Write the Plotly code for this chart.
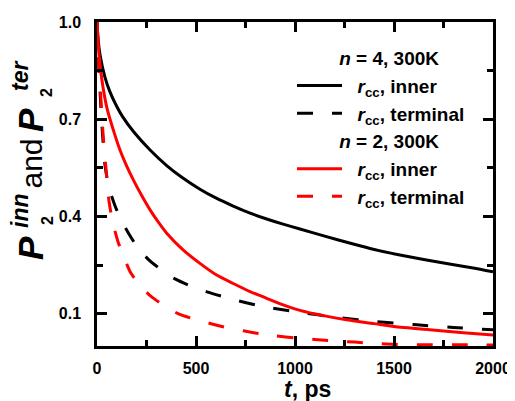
import plotly.graph_objects as go

# ---- data ----
t_n4_inner = [0, 5, 15, 40, 65, 91, 130, 184, 268, 352, 430, 520, 600, 688, 770, 857, 940, 1025,
              1150, 1280, 1400, 1530, 1650, 1780, 1900, 2000]
p_n4_inner = [1.0, 0.95, 0.9, 0.83, 0.785, 0.75, 0.707, 0.662, 0.605, 0.557, 0.52, 0.484, 0.457,
              0.432, 0.411, 0.392, 0.376, 0.361, 0.339, 0.317, 0.298, 0.281, 0.267, 0.253, 0.241, 0.229]

t_n4_term = [0, 10, 25, 40, 60, 96, 130, 162, 210, 263, 330, 394, 470, 555, 640, 717, 800, 888,
             1000, 1230, 1400, 1600, 1800, 2000]
p_n4_term = [1.0, 0.85, 0.68, 0.56, 0.49, 0.425, 0.38, 0.345, 0.30, 0.265, 0.233, 0.207, 0.186,
             0.167, 0.152, 0.139, 0.127, 0.117, 0.106, 0.087, 0.076, 0.066, 0.057, 0.05]

t_n2_inner = [0, 10, 25, 50, 91, 116, 150, 184, 225, 268, 310, 352, 436, 520, 604, 688, 773, 857,
              940, 1025, 1150, 1260, 1400, 1500, 1680, 1850, 2000]
p_n2_inner = [1.0, 0.9, 0.82, 0.735, 0.65, 0.605, 0.555, 0.512, 0.465, 0.42, 0.382, 0.348, 0.296,
              0.255, 0.219, 0.193, 0.168, 0.147, 0.127, 0.11, 0.093, 0.081, 0.069, 0.06, 0.05,
              0.041, 0.034]

t_n2_term = [0, 10, 20, 30, 45, 60, 80, 106, 140, 171, 220, 273, 340, 409, 490, 581, 660, 747,
             820, 904, 1000, 1100, 1200, 1300, 1400, 1500, 1650, 1800, 2000]
p_n2_term = [1.0, 0.86, 0.76, 0.66, 0.55, 0.45, 0.38, 0.322, 0.268, 0.225, 0.185, 0.153, 0.124,
             0.1, 0.083, 0.068, 0.056, 0.046, 0.038, 0.031, 0.025, 0.02, 0.016, 0.012, 0.008,
             0.005, 0.004, 0.004, 0.003]

x_ticks = [0, 500, 1000, 1500, 2000]
y_ticks = [0.1, 0.4, 0.7, 1.0]
y_ticktext = ["0.1", "0.4", "0.7", "1.0"]

legend_n4 = "<i>n</i> = 4, 300K"
legend_n2 = "<i>n</i> = 2, 300K"
label_inner = "<i>r</i><sub>cc</sub>, inner"
label_term = "<i>r</i><sub>cc</sub>, terminal"

# ---- figure ----
FONT = "Liberation Sans, Arial, sans-serif"
DASH = "16px,19px"
PAD = "\u00a0" * 8
SP = "\u00a0\u00a0"

# the page body has an 8px margin; plot area should sit at page px (97..493, 22..346)
OFF = 8
W, H = 515 - OFF, 401 - OFF
PL, PR, PT, PB = 97, 493, 22, 346
L, T = PL - OFF, PT - OFF
R = W - (PR - OFF)
B = H - (PB - OFF)


def px(xp):
    return (xp - PL) / (PR - PL)


def py(yp):
    return (PB - yp) / (PB - PT)


fig = go.Figure()
fig.add_trace(go.Scatter(x=t_n4_inner, y=p_n4_inner, mode="lines", name=SP + label_inner,
                         line=dict(color="black", width=3, shape="spline", smoothing=0.6),
                         legendgroup="n4", legendgrouptitle=dict(text=PAD + legend_n4)))
fig.add_trace(go.Scatter(x=t_n4_term, y=p_n4_term, mode="lines", name=SP + label_term,
                         line=dict(color="black", width=3, dash=DASH, shape="spline", smoothing=0.6),
                         legendgroup="n4"))
fig.add_trace(go.Scatter(x=t_n2_inner, y=p_n2_inner, mode="lines", name=SP + label_inner,
                         line=dict(color="#ff0000", width=3, shape="spline", smoothing=0.6),
                         legendgroup="n2", legendgrouptitle=dict(text=PAD + legend_n2)))
fig.add_trace(go.Scatter(x=t_n2_term, y=p_n2_term, mode="lines", name=SP + label_term,
                         line=dict(color="#ff0000", width=3, dash=DASH, shape="spline", smoothing=0.6),
                         legendgroup="n2"))

axis_common = dict(showline=True, linecolor="black", linewidth=2.5, mirror="allticks",
                   ticks="inside", ticklen=10, tickwidth=2.5, tickcolor="black",
                   showgrid=False, zeroline=False,
                   tickfont=dict(family=FONT, size=16, color="black", weight="bold"))

fig.update_xaxes(range=[0, 2000], tickvals=x_ticks, ticklabelstandoff=6,
                 minor=dict(ticks="inside", ticklen=6, tickwidth=2.5, tickcolor="black", dtick=250, tick0=0),
                 **axis_common)
fig.update_yaxes(range=[0, 1.0], tickvals=y_ticks, ticktext=y_ticktext, ticklabelstandoff=10,
                 minor=dict(ticks="inside", ticklen=6, tickwidth=2.5, tickcolor="black", dtick=0.15, tick0=0.1),
                 **axis_common)

ann = []
# y-axis title pieces (rotated), positions in page px
ytitle = [
    ("<b><i>P</i></b>", 35, 30, 248),
    ("<b>2</b>", 16, 47, 221),
    ("<b><i>inn</i></b>", 23, 20, 211),
    ("and", 30, 31.5, 164),
    ("<b><i>P</i></b>", 35, 30, 120),
    ("<b>2</b>", 16, 47, 93),
    ("<b><i>ter</i></b>", 23, 20, 76),
]
for txt, size, xx, yy in ytitle:
    ann.append(dict(text=txt, x=px(xx), y=py(yy), xref="paper", yref="paper",
                    xanchor="center", yanchor="middle", textangle=-90, showarrow=False,
                    font=dict(family=FONT, size=size, color="black")))
# x-axis title
ann.append(dict(text="<b><i>t</i>, ps</b>", x=px(307), y=py(388.5), xref="paper", yref="paper",
                xanchor="center", yanchor="middle", showarrow=False,
                font=dict(family=FONT, size=23, color="black")))

fig.update_layout(
    width=W, height=H,
    margin=dict(l=L, r=R, t=T, b=B, pad=0, autoexpand=False),
    paper_bgcolor="white", plot_bgcolor="white",
    font=dict(family=FONT, color="black"),
    annotations=ann,
    legend=dict(x=px(292), y=py(39), xanchor="left", yanchor="top",
                bgcolor="rgba(0,0,0,0)", borderwidth=0, itemwidth=45, tracegroupgap=0,
                font=dict(family=FONT, size=19, color="black", weight="bold"),
                grouptitlefont=dict(family=FONT, size=19, color="black", weight="bold")),
    showlegend=True,
)

fig.write_html("out.html")
